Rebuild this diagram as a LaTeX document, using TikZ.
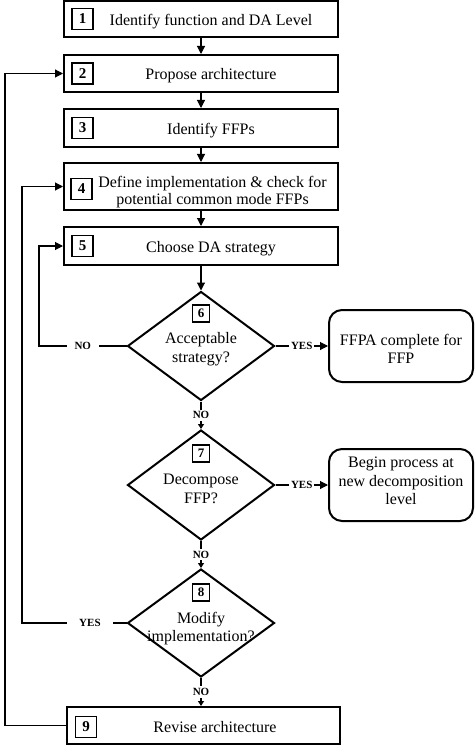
\documentclass[tikz,border=0pt]{standalone}
\usepackage{fontspec}
\setmainfont{Liberation Serif}
\usetikzlibrary{shapes.geometric,arrows.meta}

\begin{document}
\begin{tikzpicture}[x=1pt, y=-1pt,
  txt/.style={font=\fontsize{16}{18.5}\selectfont},
  process/.style={txt, draw, line width=2pt, minimum width=274pt, inner sep=0pt},
  oneline/.style={text height=13pt, text depth=0pt},
  decision/.style={draw, diamond, line width=2pt, inner sep=0pt, minimum width=147pt, minimum height=109pt},
  outcome/.style={draw, line width=2pt, rounded corners=13pt, minimum width=144pt, minimum height=72pt, inner sep=0pt},
  said/.style={txt, align=center, inner sep=0pt},
  numbox/.style={draw, line width=1.8pt, inner sep=0pt, minimum size=21pt, font=\bfseries\fontsize{15}{15}\selectfont},
  dnumbox/.style={numbox, line width=1.6pt, minimum size=17pt, font=\bfseries\fontsize{13}{13}\selectfont},
  flow/.style={line width=1.1pt, -{Triangle[length=8pt,width=8pt]}},
  smalltip/.style={line width=1.1pt, -{Triangle[length=5pt,width=6pt]}},
  lbl/.style={fill=white, inner sep=2pt, font=\bfseries\fontsize{11}{11}\selectfont}]
\useasboundingbox (0,0) rectangle (474,746);

% steps
\node[process, oneline, minimum height=36pt, label={[numbox, xshift=-118.5pt]center:1}] (b1) at (201,19) {\hspace*{20pt}Identify function and DA Level};
\node[process, oneline, minimum height=37pt, label={[numbox, xshift=-118.5pt]center:2}] (b2) at (201,73.5) {\hspace*{20pt}Propose architecture};
\node[process, oneline, minimum height=38pt, label={[numbox, xshift=-118.5pt]center:3}] (b3) at (201,128) {\hspace*{20pt}Identify FFPs};
\node[process, minimum height=47pt, label={[numbox, xshift=-119.5pt, yshift=-2.5pt]center:4},
  label={[said, font=\fontsize{16}{17}\selectfont, xshift=11.5pt, yshift=-5.25pt]center:{Define implementation \& check for\\potential common mode FFPs}}] (b4) at (201,186.5) {};
\node[process, oneline, minimum height=38pt, label={[numbox, xshift=-118.5pt]center:5}] (b5) at (201,246) {\hspace*{20pt}Choose DA strategy};

% decisions
\node[decision, label={[dnumbox, yshift=32.5pt]center:6},
  label={[said, yshift=-3pt]center:{Acceptable\\strategy?}}] (d6) at (201,346) {};
\node[decision, minimum height=110pt, label={[dnumbox, yshift=31.5pt]center:7},
  label={[said, yshift=-4pt]center:{Decompose\\FFP?}}] (d7) at (201,485) {};
\node[decision, minimum height=108pt, label={[dnumbox, yshift=30.5pt]center:8},
  label={[said, yshift=-5.5pt]center:{Modify\\implementation?}}] (d8) at (201,623) {};

% outcomes
\node[outcome, label={[said, yshift=-2.75pt]center:{FFPA complete for\\FFP}}] (r6) at (401,346) {};
\node[outcome, label={[said, font=\fontsize{16}{18.7}\selectfont, yshift=4pt]center:{Begin process at\\new decomposition\\level}}] (r7) at (401,485) {};

\node[process, oneline, minimum width=273pt, minimum height=37pt, label={[numbox, xshift=-117.5pt, yshift=-1.5pt]center:9}] (b9) at (203.5,725.5) {\hspace*{23pt}Revise architecture};

% main flow
\draw[flow] (b1) -- (b2);
\draw[flow] (b2) -- (b3);
\draw[flow] (b3) -- (b4);
\draw[flow] (b4) -- (b5);
\draw[flow] (b5) -- (d6);
\draw[flow] (d6) -- node[lbl]{YES} (r6);
\draw[flow] (d7) -- node[lbl]{YES} (r7);
\draw[smalltip] (d6) -- node[lbl]{NO} (d7);
\draw[smalltip] (d7) -- node[lbl]{NO} (d8);
\draw[smalltip] (d8.south) -- node[lbl]{NO} (d8.south |- b9.north);

% loops back
\coordinate (c6) at (39,346);
\coordinate (c8) at (22,623);
\coordinate (c9) at (5,725.5);
\draw[flow] (d6.west) -- node[lbl, inner xsep=8pt]{NO} (c6) |- (b5.west);
\draw[flow] (d8.west) -- node[lbl, inner xsep=12pt, pos=0.35]{YES} (c8) |- (b4.west);
\draw[flow] (b9.west) -- (c9) |- (b2.west);
\end{tikzpicture}
\end{document}
